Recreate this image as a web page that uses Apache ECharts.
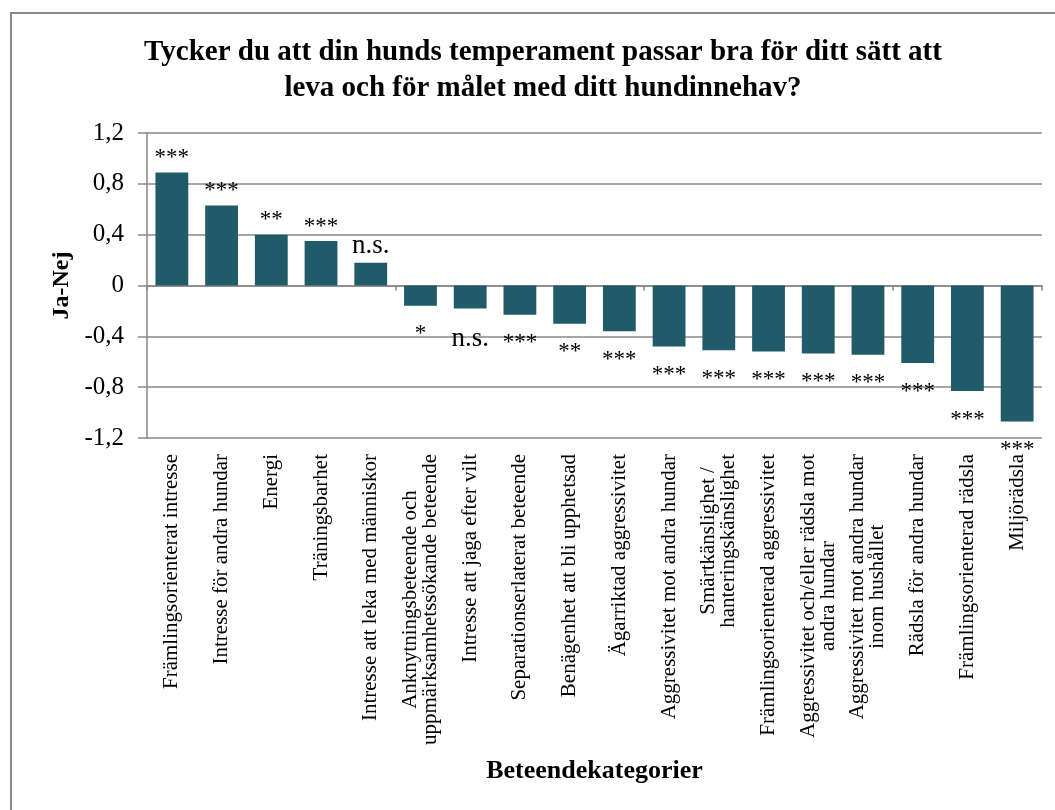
<!DOCTYPE html>
<html lang="sv">
<head>
    <meta charset="UTF-8">
    <title>Ja-Nej per beteendekategori</title>
    <script src="https://cdn.jsdelivr.net/npm/echarts@6/dist/echarts.min.js"></script>
</head>
<body style="margin:0;background:#fff;">
    <div id="main" style="width:1055px;height:810px;"></div>
    <script type="text/javascript">

        // kategorier (x-axel)
        var kategorier = [
            'Främlingsorienterat intresse',
            'Intresse för andra hundar',
            'Energi',
            'Träningsbarhet',
            'Intresse att leka med människor',
            'Anknytningsbeteende och\nuppmärksamhetssökande beteende',
            'Intresse att jaga efter vilt',
            'Separationserlaterat beteende',
            'Benägenhet att bli upphetsad',
            'Ägarriktad aggressivitet',
            'Aggressivitet mot andra hundar',
            'Smärtkänslighet /\nhanteringskänslighet',
            'Främlingsorienterad aggressivitet',
            'Aggressivitet och/eller rädsla mot\nandra hundar',
            'Aggressivitet mot andra hundar\ninom hushållet',
            'Rädsla för andra hundar',
            'Främlingsorienterad rädsla',
            'Miljörädsla'
        ];

        // Ja-Nej värden
        var jaNej = [0.89, 0.63, 0.40, 0.35, 0.18, -0.16, -0.18, -0.23, -0.30, -0.36,
                     -0.48, -0.51, -0.52, -0.535, -0.545, -0.61, -0.83, -1.07];

        // signifikans
        var signifikans = ['***', '***', '**', '***', 'n.s.', '*', 'n.s.', '***', '**', '***',
                           '***', '***', '***', '***', '***', '***', '***', '***'];

        var serif = '"Liberation Serif", "Times New Roman", serif';
        var grey = '#888888';

        var chart = echarts.init(document.getElementById('main'));

        var barData = jaNej.map(function (v) {
            return {
                value: v,
                label: {
                    position: v >= 0 ? 'top' : 'bottom',
                    distance: v >= 0 ? 3 : 17
                }
            };
        });

        var option = {
            animation: false,
            backgroundColor: '#fff',
            title: {
                text: 'Tycker du att din hunds temperament passar bra för ditt sätt att\nleva och för målet med ditt hundinnehav?',
                left: 538,
                top: 30,
                textAlign: 'center',
                textStyle: {
                    fontFamily: serif,
                    fontWeight: 'bold',
                    fontSize: 29,
                    lineHeight: 36,
                    color: '#000'
                }
            },
            graphic: [{
                type: 'rect',
                shape: { x: 11, y: 13, width: 1060, height: 820 },
                style: { fill: 'none', stroke: grey, lineWidth: 2 },
                silent: true
            }],
            grid: {
                left: 147,
                right: 13,
                top: 133,
                bottom: 372
            },
            xAxis: [{
                type: 'category',
                data: kategorier,
                position: 'bottom',
                axisLine: { onZero: true, lineStyle: { color: grey, width: 1.5 } },
                axisTick: { show: true, length: 5, lineStyle: { color: grey, width: 1.5 } },
                axisLabel: { show: false }
            }, {
                type: 'category',
                data: kategorier,
                position: 'bottom',
                axisLine: { show: false, onZero: false },
                axisTick: { show: false },
                axisLabel: {
                    interval: 0,
                    rotate: 90,
                    margin: 16,
                    fontFamily: serif,
                    fontSize: 21,
                    color: '#000',
                    lineHeight: 20,
                    formatter: function (val) {
                        return val.split('\n').map(function (s) {
                            return '{c|' + s + '}';
                        }).join('\n');
                    },
                    rich: {
                        c: {
                            align: 'center',
                            fontFamily: serif,
                            fontSize: 21,
                            lineHeight: 20,
                            color: '#000'
                        }
                    }
                },
                name: 'Beteendekategorier',
                nameLocation: 'middle',
                nameGap: 320,
                nameTextStyle: {
                    fontFamily: serif,
                    fontWeight: 'bold',
                    fontSize: 26,
                    color: '#000'
                }
            }],
            yAxis: {
                type: 'value',
                min: -1.2,
                max: 1.2,
                interval: 0.4,
                axisLine: { show: true, lineStyle: { color: grey, width: 1.5 } },
                axisTick: { show: true, length: 9, lineStyle: { color: grey, width: 1.5 } },
                splitLine: { show: true, lineStyle: { color: grey, width: 1.5 } },
                axisLabel: {
                    margin: 23,
                    fontFamily: serif,
                    fontSize: 25,
                    color: '#000',
                    formatter: function (v) {
                        return String(+v.toFixed(1)).replace('.', ',');
                    }
                },
                name: 'Ja-Nej',
                nameLocation: 'middle',
                nameGap: 73,
                nameTextStyle: {
                    fontFamily: serif,
                    fontWeight: 'bold',
                    fontSize: 24,
                    color: '#000'
                }
            },
            series: [{
                type: 'bar',
                xAxisIndex: 0,
                data: barData,
                barWidth: '66%',
                itemStyle: { color: '#215A69' },
                label: {
                    show: true,
                    fontFamily: serif,
                    color: '#000',
                    formatter: function (p) {
                        var s = signifikans[p.dataIndex];
                        return s === 'n.s.' ? '{n|' + s + '}' : '{a|' + s + '}';
                    },
                    rich: {
                        a: { fontFamily: serif, fontSize: 23, color: '#000' },
                        n: { fontFamily: serif, fontSize: 27, color: '#000' }
                    }
                }
            }]
        };

        chart.setOption(option);

    </script>
</body>
</html>
